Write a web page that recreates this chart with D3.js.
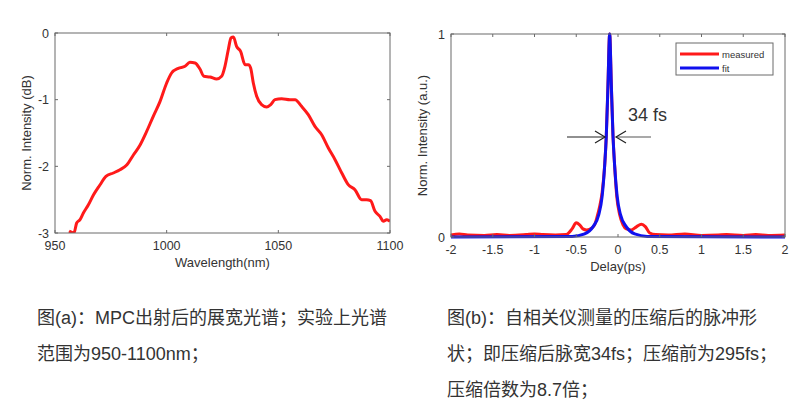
<!DOCTYPE html>
<html>
<head>
<meta charset="utf-8">
<script src="https://cdn.jsdelivr.net/npm/d3@7"></script>
<style>
  body { margin: 0; background: #fff; }
  svg { display: block; }
  .cap { font-family: "Liberation Sans", "Noto Sans CJK SC", sans-serif; font-size: 18px; fill: #333; }
</style>
</head>
<body>
<svg id="fig" width="809" height="409"></svg>
<script>
// (a) spectrum: wavelength (nm) vs norm. intensity (dB)
const specWl = [956.3,958.5,959.7,961.2,962.7,964.9,967.2,970.1,972.8,976.1,979.1,982.1,985.1,988.1,991.0,994.0,997.0,1000.0,1002.2,1005.2,1008.2,1010.4,1012.7,1014.9,1016.7,1019.4,1022.4,1024.6,1026.1,1027.6,1028.8,1029.9,1031.3,1033.1,1035.1,1036.6,1037.6,1038.8,1040.3,1042.5,1044.8,1046.6,1048.5,1051.5,1055.2,1057.5,1060.4,1063.4,1066.4,1069.4,1072.4,1075.4,1078.4,1081.3,1084.3,1087.3,1089.5,1091.3,1093.3,1095.5,1097.0,1098.5,1100.0]
const specDb = [-2.97,-3.0,-2.85,-2.8,-2.7,-2.58,-2.43,-2.28,-2.15,-2.1,-2.05,-1.98,-1.83,-1.68,-1.48,-1.25,-1.03,-0.75,-0.6,-0.53,-0.5,-0.44,-0.45,-0.54,-0.65,-0.66,-0.69,-0.65,-0.5,-0.25,-0.075,-0.06,-0.2,-0.275,-0.475,-0.475,-0.525,-0.75,-0.95,-1.075,-1.11,-1.075,-1.0,-0.985,-1.0,-1.0,-1.1,-1.225,-1.4,-1.525,-1.725,-1.9,-2.1,-2.275,-2.35,-2.5,-2.5,-2.515,-2.675,-2.75,-2.825,-2.8,-2.825]
const specXTicks = [950, 1000, 1050, 1100]
const specYTicks = [0, -1, -2, -3]

// (b) autocorrelation: delay (ps) vs norm. intensity
const measDelay = [-2,-1.9,-1.8,-1.6,-1.45,-1.3,-1.1,-1.0,-0.9,-0.75,-0.62,-0.55,-0.5,-0.46,-0.42,-0.38,-0.33,-0.28,-0.25,-0.22,-0.19,-0.16,-0.14,-0.12,-0.1,-0.08,-0.06,-0.04,-0.015,0.02,0.06,0.1,0.16,0.22,0.28,0.33,0.38,0.45,0.6,0.8,1.0,1.2,1.3,1.5,1.65,1.8,2]
const measVal = [0.01,0.015,0.01,0.008,0.012,0.008,0.012,0.015,0.012,0.01,0.012,0.04,0.07,0.06,0.04,0.035,0.04,0.06,0.1,0.15,0.22,0.35,0.5,0.75,1.0,0.75,0.5,0.35,0.2,0.11,0.06,0.04,0.035,0.05,0.063,0.05,0.02,0.012,0.01,0.015,0.008,0.01,0.012,0.008,0.012,0.008,0.01]
const fitDelay = [-2,-0.55,-0.4,-0.3,-0.23,-0.19,-0.16,-0.14,-0.12,-0.1,-0.08,-0.06,-0.04,-0.01,0.03,0.1,0.2,0.35,2]
const fitVal = [0,0.002,0.015,0.05,0.11,0.2,0.35,0.5,0.75,1.0,0.75,0.5,0.35,0.2,0.11,0.05,0.015,0.003,0]
const acXTicks = [-2,-1.5,-1,-0.5,0,0.5,1,1.5,2]
const acYTicks = [0, 1]
const legendNames = ["measured", "fit"]
const legendColors = ["#ff1a1a", "#1010ee"]

const captionA = ["图(a)：MPC出射后的展宽光谱；实验上光谱", "范围为950-1100nm；"]
const captionB = ["图(b)：自相关仪测量的压缩后的脉冲形", "状；即压缩后脉宽34fs；压缩前为295fs；", "压缩倍数为8.7倍；"]

const svg = d3.select('#fig')
const font = '"Liberation Sans", Arial, sans-serif'
const axisCol = '#6b6b6b'
const textCol = '#333'

function frame(g, x, y, xTicks, yTicks, xLab, yLab) {
  const [x0, x1] = x.range(), [y0, y1] = y.range()
  g.append('rect').attr('x', x0).attr('y', y1).attr('width', x1 - x0).attr('height', y0 - y1)
    .attr('fill', 'none').attr('stroke', axisCol).attr('stroke-width', 1)
  xTicks.forEach(t => {
    g.append('line').attr('x1', x(t)).attr('x2', x(t)).attr('y1', y0).attr('y2', y0 - 3).attr('stroke', axisCol)
    g.append('line').attr('x1', x(t)).attr('x2', x(t)).attr('y1', y1).attr('y2', y1 + 3).attr('stroke', axisCol)
    g.append('text').attr('x', x(t)).attr('y', y0 + 17).attr('text-anchor', 'middle')
      .attr('font-family', font).attr('font-size', 12.5).attr('fill', textCol).text(String(t))
  })
  yTicks.forEach(t => {
    g.append('line').attr('x1', x0).attr('x2', x0 + 3).attr('y1', y(t)).attr('y2', y(t)).attr('stroke', axisCol)
    g.append('line').attr('x1', x1).attr('x2', x1 - 3).attr('y1', y(t)).attr('y2', y(t)).attr('stroke', axisCol)
    g.append('text').attr('x', x0 - 6).attr('y', y(t) + 4.5).attr('text-anchor', 'end')
      .attr('font-family', font).attr('font-size', 12.5).attr('fill', textCol).text(String(t))
  })
  g.append('text').attr('x', (x0 + x1) / 2).attr('y', y0 + 34).attr('text-anchor', 'middle')
    .attr('font-family', font).attr('font-size', 13).attr('fill', textCol).text(xLab)
  g.append('text').attr('transform', `translate(${x0 - 24},${(y0 + y1) / 2}) rotate(-90)`)
    .attr('text-anchor', 'middle').attr('font-family', font).attr('font-size', 13).attr('fill', textCol).text(yLab)
}

// panel (a)
const xa = d3.scaleLinear().domain([950, 1100]).range([55, 390])
const ya = d3.scaleLinear().domain([-3, 0]).range([233, 33])
const ga = svg.append('g')
svg.append('clipPath').attr('id', 'clipA').append('rect')
  .attr('x', 55).attr('y', 33).attr('width', 335).attr('height', 200)
ga.append('path')
  .datum(d3.zip(specWl, specDb))
  .attr('d', d3.line().x(d => xa(d[0])).y(d => ya(d[1])).curve(d3.curveMonotoneX))
  .attr('fill', 'none').attr('stroke', '#ff1a1a').attr('stroke-width', 3)
  .attr('stroke-linejoin', 'round').attr('clip-path', 'url(#clipA)')
frame(ga, xa, ya, specXTicks, specYTicks, 'Wavelength(nm)', 'Norm. Intensity (dB)')

// panel (b)
const xb = d3.scaleLinear().domain([-2, 2]).range([451, 785])
const yb = d3.scaleLinear().domain([0, 1]).range([237, 34])
const gb = svg.append('g')
const lineB = d3.line().x(d => xb(d[0])).y(d => yb(d[1])).curve(d3.curveMonotoneX)
gb.append('path').datum(d3.zip(measDelay, measVal)).attr('d', lineB)
  .attr('fill', 'none').attr('stroke', legendColors[0]).attr('stroke-width', 3)
gb.append('path').datum(d3.zip(fitDelay, fitVal)).attr('d', lineB)
  .attr('fill', 'none').attr('stroke', legendColors[1]).attr('stroke-width', 3)
frame(gb, xb, yb, acXTicks, acYTicks, 'Delay(ps)', 'Norm. Intensity (a.u.)')

// legend
const lg = gb.append('g')
lg.append('rect').attr('x', 676).attr('y', 43).attr('width', 97).attr('height', 32)
  .attr('fill', '#fff').attr('stroke', axisCol)
legendNames.forEach((n, i) => {
  const yy = 54 + i * 14
  lg.append('line').attr('x1', 680).attr('x2', 719).attr('y1', yy).attr('y2', yy)
    .attr('stroke', legendColors[i]).attr('stroke-width', 3)
  lg.append('text').attr('x', 722).attr('y', yy + 3.5).attr('font-family', font)
    .attr('font-size', 9.5).attr('fill', textCol).text(n)
})

// FWHM annotation
const ay = 137
const ann = gb.append('g').attr('stroke', '#222').attr('stroke-width', 1.2).attr('fill', 'none')
ann.append('line').attr('x1', 567).attr('x2', 605).attr('y1', ay).attr('y2', ay)
ann.append('path').attr('d', `M595,${ay - 6}L605,${ay}L595,${ay + 6}`)
ann.append('line').attr('x1', 616).attr('x2', 651).attr('y1', ay).attr('y2', ay).attr('stroke', '#555')
ann.append('path').attr('d', `M626,${ay - 6}L616,${ay}L626,${ay + 6}`)
gb.append('text').attr('x', 628).attr('y', 121).attr('font-family', font).attr('font-size', 18)
  .attr('fill', textCol).text('34 fs')

// captions
captionA.forEach((t, i) => svg.append('text').attr('class', 'cap').attr('x', 37).attr('y', 324 + i * 36).text(t))
captionB.forEach((t, i) => svg.append('text').attr('class', 'cap').attr('x', 447).attr('y', 324 + i * 36).text(t))
</script>
</body>
</html>
